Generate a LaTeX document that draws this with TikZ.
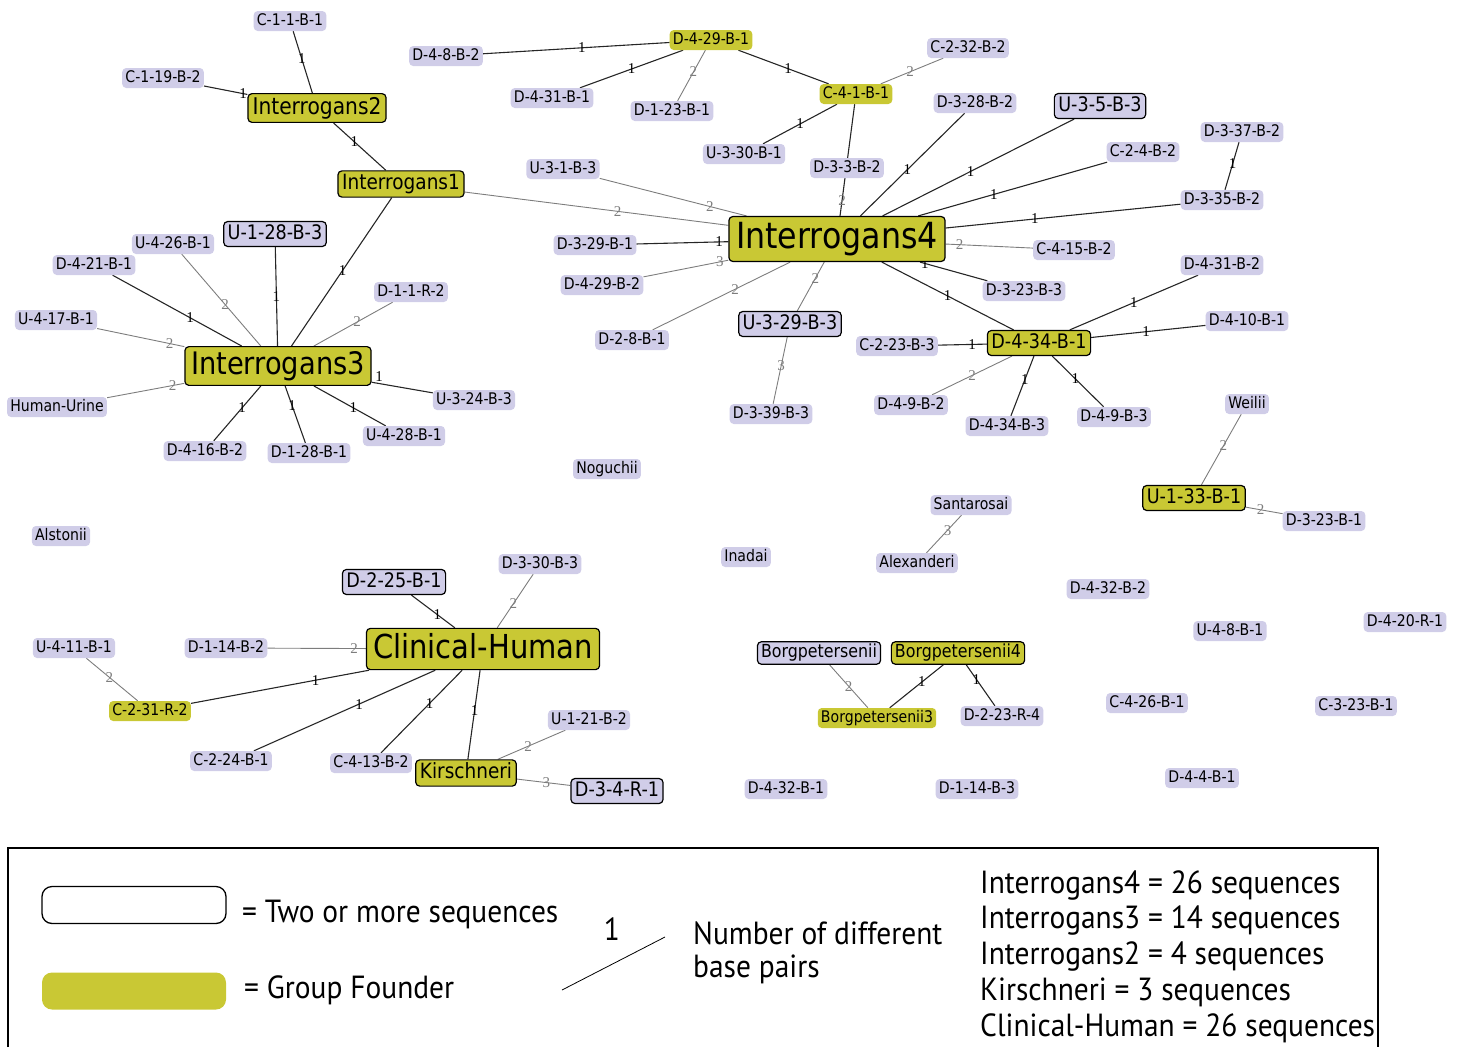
\documentclass[tikz,border=0pt]{standalone}
\usepackage{fontspec}
\newfontfamily\nf[FakeStretch=0.88]{DejaVu Sans}
\newfontfamily\lf[FakeStretch=0.92]{PT Sans}
\newfontfamily\ef{Liberation Serif}
\definecolor{lav}{RGB}{208,205,232}
\definecolor{yel}{RGB}{201,200,52}
\definecolor{edg}{RGB}{125,125,125}
\pgfdeclarelayer{bg}
\pgfsetlayers{bg,main}
\tikzset{
  fsz/.style={font={\nf\fontsize{#1}{#1}\selectfont}, text height={0.75*#1pt}, text depth={0.2*#1pt}, inner xsep={0.2*#1pt}, inner ysep={0.15*#1pt}, rounded corners=4pt},
  plain/.style={fill=lav, fsz=16},
  multi/.style={fill=lav, draw=black, line width=1.2pt, fsz=#1},
  fnd/.style={fill=yel, draw=black, line width=1.2pt, fsz=#1},
  fndsm/.style={fill=yel, fsz=16},
  e1/.style={draw=black!85, line width=1.1pt},
  e2/.style={draw=edg, line width=0.9pt},
  l1/.style={font={\ef\fontsize{15}{15}\selectfont}, inner sep=0.5pt, text=black},
  l2/.style={font={\ef\fontsize{15}{15}\selectfont}, inner sep=0.5pt, text=edg},
  lg/.style={font={\lf\fontsize{32}{36}\selectfont}, inner sep=0pt, anchor=west}
}
\begin{document}
\begin{tikzpicture}[x=1pt,y=-1pt]
\useasboundingbox (0,0) rectangle (1459,1047);
% ---------- nodes ----------
\node[plain] (C11) at (290,21) {C-1-1-B-1};
\node[plain] (C119) at (163,78) {C-1-19-B-2};
\node[fnd=23] (I2) at (317,108) {Interrogans2};
\node[fnd=21] (I1) at (401,184) {Interrogans1};
\node[plain] (D48B2) at (446,56) {D-4-8-B-2};
\node[fndsm] (D429B1) at (711,40) {D-4-29-B-1};
\node[plain] (D431B1) at (552,98) {D-4-31-B-1};
\node[plain] (D123B1) at (672,111) {D-1-23-B-1};
\node[plain] (C232B2) at (968,48) {C-2-32-B-2};
\node[fndsm] (C41B1) at (856,94) {C-4-1-B-1};
\node[plain] (U330B1) at (744,154) {U-3-30-B-1};
\node[plain] (D33B2) at (847,168) {D-3-3-B-2};
\node[plain] (D328B2) at (975,103) {D-3-28-B-2};
\node[multi=20] (U35B3) at (1100,106) {U-3-5-B-3};
\node[plain] (D337B2) at (1242,132) {D-3-37-B-2};
\node[plain] (C24B2) at (1143,152) {C-2-4-B-2};
\node[plain] (D335B2) at (1222,200) {D-3-35-B-2};
\node[plain] (U31B3) at (563,169) {U-3-1-B-3};
\node[fnd=36] (I4) at (837,239) {Interrogans4};
\node[plain] (D329B1) at (595,245) {D-3-29-B-1};
\node[plain] (D429B2) at (602,285) {D-4-29-B-2};
\node[plain] (C415B2) at (1074,250) {C-4-15-B-2};
\node[plain] (D323B3) at (1024,291) {D-3-23-B-3};
\node[plain] (D431B2) at (1222,265) {D-4-31-B-2};
\node[plain] (D410B1) at (1247,321) {D-4-10-B-1};
\node[plain] (D28B1) at (632,340) {D-2-8-B-1};
\node[multi=20] (U329B3) at (790,324) {U-3-29-B-3};
\node[plain] (C223B3) at (897,346) {C-2-23-B-3};
\node[fnd=20] (D434B1) at (1039,343) {D-4-34-B-1};
\node[plain] (D49B2) at (911,405) {D-4-9-B-2};
\node[plain] (D434B3) at (1007,426) {D-4-34-B-3};
\node[plain] (D49B3) at (1114,417) {D-4-9-B-3};
\node[plain] (D339B3) at (771,414) {D-3-39-B-3};
\node[plain] (Wei) at (1247,404) {Weilii};
\node[fnd=20] (U133B1) at (1194,498) {U-1-33-B-1};
\node[plain] (D323B1) at (1324,521) {D-3-23-B-1};
\node[plain] (U426B1) at (173,244) {U-4-26-B-1};
\node[multi=20] (U128B3) at (275,234) {U-1-28-B-3};
\node[plain] (D421B1) at (94,265) {D-4-21-B-1};
\node[plain] (D11R2) at (411,292) {D-1-1-R-2};
\node[plain] (U417B1) at (56,320) {U-4-17-B-1};
\node[fnd=31] (I3) at (278,366) {Interrogans3};
\node[plain] (HU) at (57,407) {Human-Urine};
\node[plain] (U324B3) at (474,400) {U-3-24-B-3};
\node[plain] (U428B1) at (404,436) {U-4-28-B-1};
\node[plain] (D416B2) at (205,451) {D-4-16-B-2};
\node[plain] (D128B1) at (309,453) {D-1-28-B-1};
\node[plain] (Nog) at (607,469) {Noguchii};
\node[plain] (Als) at (61,536) {Alstonii};
\node[plain] (San) at (971,505) {Santarosai};
\node[plain] (Ale) at (917,563) {Alexanderi};
\node[plain] (Ina) at (746,557) {Inadai};
\node[multi=20] (D225B1) at (394,582) {D-2-25-B-1};
\node[plain] (D330B3) at (540,564) {D-3-30-B-3};
\node[plain] (U411B1) at (74,648) {U-4-11-B-1};
\node[plain] (D114B2) at (226,648) {D-1-14-B-2};
\node[fnd=33] (CH) at (483,649) {Clinical-Human};
\node[fndsm] (C231R2) at (150,711) {C-2-31-R-2};
\node[plain] (U121B2) at (589,720) {U-1-21-B-2};
\node[plain] (C224B1) at (231,761) {C-2-24-B-1};
\node[plain] (C413B2) at (371,763) {C-4-13-B-2};
\node[fnd=21] (Kir) at (466,773) {Kirschneri};
\node[multi=20] (D34R1) at (617,791) {D-3-4-R-1};
\node[plain] (D432B2) at (1108,589) {D-4-32-B-2};
\node[plain] (U48B1) at (1230,631) {U-4-8-B-1};
\node[plain] (D420R1) at (1405,622) {D-4-20-R-1};
\node[multi=18] (Borg) at (819,653) {Borgpetersenii};
\node[fnd=18] (Borg4) at (958,653) {Borgpetersenii4};
\node[fndsm] (Borg3) at (877,718) {Borgpetersenii3};
\node[plain] (D223R4) at (1002,716) {D-2-23-R-4};
\node[plain] (C426B1) at (1147,703) {C-4-26-B-1};
\node[plain] (C323B1) at (1356,706) {C-3-23-B-1};
\node[plain] (D432B1) at (786,789) {D-4-32-B-1};
\node[plain] (D114B3) at (977,789) {D-1-14-B-3};
\node[plain] (D44B1) at (1202,778) {D-4-4-B-1};
% ---------- edges ----------
\begin{pgfonlayer}{bg}
\draw[e1] (C11) -- node[l1,pos=.45]{1} (I2);
\draw[e1] (C119) -- node[l1,pos=.9]{1} (I2);
\draw[e1] (I2) -- node[l1,pos=.4]{1} (I1);
\draw[e2] (I1) -- node[l2,pos=.58]{2} (I4);
\draw[e1] (I1) -- node[l1,pos=.49]{1} (I3);
\draw[e1] (D48B2) -- node[l1,pos=.53]{1} (D429B1);
\draw[e1] (D431B1) -- node[l1,pos=.5]{1} (D429B1);
\draw[e2] (D123B1) -- node[l2,pos=.57]{2} (D429B1);
\draw[e1] (D429B1) -- node[l1,pos=.55]{1} (C41B1);
\draw[e2] (C232B2) -- node[l2,pos=.53]{2} (C41B1);
\draw[e1] (U330B1) -- node[l1,pos=.5]{1} (C41B1);
\draw[e1] (C41B1) -- node[l2,pos=.86]{2} (I4);
\draw[e1] (D328B2) -- node[l1,pos=.55]{1} (I4);
\draw[e1] (U35B3) -- node[l1,pos=.54]{1} (I4);
\draw[e1] (C24B2) -- node[l1,pos=.6]{1} (I4);
\draw[e1] (D335B2) -- node[l1,pos=.62]{1} (I4);
\draw[e1] (D337B2) -- node[l1,pos=.45]{1} (D335B2);
\draw[e2] (U31B3) -- node[l2,pos=.75]{2} (I4);
\draw[e1] (D329B1) -- node[l1,pos=.9]{1} (I4);
\draw[e2] (D429B2) -- node[l2,pos=.9]{3} (I4);
\draw[e2] (C415B2) -- node[l2,pos=.84]{2} (I4);
\draw[e1] (D323B3) -- node[l1,pos=.93]{1} (I4);
\draw[e1] (I4) -- node[l1,pos=.5]{1} (D434B1);
\draw[e2] (I4) -- node[l2,pos=.4]{2} (D28B1);
\draw[e2] (I4) -- node[l2,pos=.33]{2} (U329B3);
\draw[e2] (U329B3) -- node[l2,pos=.43]{3} (D339B3);
\draw[e1] (C223B3) -- node[l1,pos=.7]{1} (D434B1);
\draw[e1] (D434B1) -- node[l1,pos=.5]{1} (D431B2);
\draw[e1] (D434B1) -- node[l1,pos=.48]{1} (D410B1);
\draw[e2] (D434B1) -- node[l2,pos=.5]{2} (D49B2);
\draw[e1] (D434B1) -- node[l1,pos=.4]{1} (D434B3);
\draw[e1] (D434B1) -- node[l1,pos=.45]{1} (D49B3);
\draw[e2] (Wei) -- node[l2,pos=.45]{2} (U133B1);
\draw[e2] (U133B1) -- node[l2,pos=.4]{2} (D323B1);
\draw[e1] (U128B3) -- node[l1,pos=.5]{1} (I3);
\draw[e2] (U426B1) -- node[l2,pos=.55]{2} (I3);
\draw[e1] (D421B1) -- node[l1,pos=.6]{1} (I3);
\draw[e2] (U417B1) -- node[l2,pos=.83]{2} (I3);
\draw[e2] (D11R2) -- node[l2,pos=.45]{2} (I3);
\draw[e2] (HU) -- node[l2,pos=.85]{2} (I3);
\draw[e1] (I3) -- node[l1,pos=.12,above=1pt]{1} (U324B3);
\draw[e1] (I3) -- node[l1,pos=.55]{1} (U428B1);
\draw[e1] (I3) -- node[l1,pos=.4]{1} (D416B2);
\draw[e1] (I3) -- node[l1,pos=.35]{1} (D128B1);
\draw[e2] (San) -- node[l2,pos=.4]{3} (Ale);
\draw[e1] (D225B1) -- node[l1,pos=.6]{1} (CH);
\draw[e2] (D330B3) -- node[l2,pos=.55]{2} (CH);
\draw[e2] (D114B2) -- node[l2,pos=.88]{2} (CH);
\draw[e2] (U411B1) -- node[l2,pos=.45]{2} (C231R2);
\draw[e1] (C231R2) -- node[l1,pos=.7]{1} (CH);
\draw[e1] (C224B1) -- node[l1,pos=.58]{1} (CH);
\draw[e1] (C413B2) -- node[l1,pos=.6]{1} (CH);
\draw[e1] (Kir) -- node[l1,pos=.55]{1} (CH);
\draw[e2] (U121B2) -- node[l2,pos=.55]{2} (Kir);
\draw[e2] (Kir) -- node[l2,pos=.55]{3} (D34R1);
\draw[e2] (Borg) -- node[l2,pos=.5]{2} (Borg3);
\draw[e1] (Borg4) -- node[l1,pos=.4]{1} (Borg3);
\draw[e1] (Borg4) -- node[l1,pos=.35]{1} (D223R4);
\end{pgfonlayer}
% ---------- legend ----------
\coordinate (LTL) at (8,848);
\coordinate (LTR) at (1378,848);
\coordinate (LBL) at (8,1047);
\coordinate (LBR) at (1378,1047);
\draw[line width=2.5pt] (LBL) -- (LTL) -- (LTR) -- (LBR);
\node[draw=black, line width=1.3pt, fill=white, rounded corners=10pt, minimum width=184pt, minimum height=37pt, inner sep=0pt] (LBox1) at (134,905) {};
\node[fill=yel, rounded corners=10pt, minimum width=184pt, minimum height=37pt, inner sep=0pt] (LBox2) at (134,991) {};
\node[lg] (LT1) at (242,914) {= Two or more sequences};
\node[lg] (LT2) at (244,990) {= Group Founder};
\node[lg, anchor=center] (LOne) at (612,929) {1};
\coordinate (LA) at (562,990);
\coordinate (LB) at (665,937);
\draw[line width=0.8pt] (LA) -- (LB);
\node[lg, anchor=west] (LNum1) at (693,933) {Number of different};
\node[lg, anchor=west] (LNum2) at (693,969) {base pairs};
\node[lg] (R1) at (980,885) {Interrogans4 = 26 sequences};
\node[lg] (R2) at (980,920) {Interrogans3 = 14 sequences};
\node[lg] (R3) at (980,956) {Interrogans2 = 4 sequences};
\node[lg] (R4) at (980,992) {Kirschneri = 3 sequences};
\node[lg] (R5) at (980,1028) {Clinical-Human = 26 sequences};
\end{tikzpicture}
\end{document}
